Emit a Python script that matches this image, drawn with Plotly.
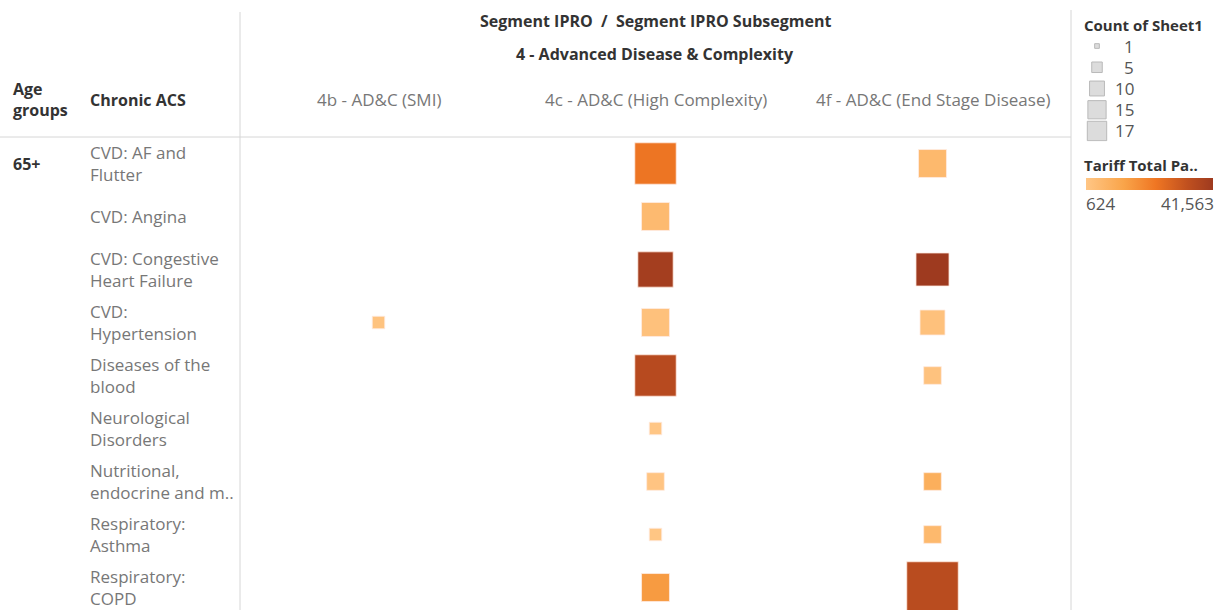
import plotly.graph_objects as go

# categories
subsegments = ["4b - AD&C (SMI)", "4c - AD&C (High Complexity)", "4f - AD&C (End Stage Disease)"]
conditions = [
    "CVD: AF and<br>Flutter",
    "CVD: Angina",
    "CVD: Congestive<br>Heart Failure",
    "CVD:<br>Hypertension",
    "Diseases of the<br>blood",
    "Neurological<br>Disorders",
    "Nutritional,<br>endocrine and m..",
    "Respiratory:<br>Asthma",
    "Respiratory:<br>COPD",
]

# one entry per mark: subsegment index, condition index, count, tariff total
point_subseg = [0, 1, 1, 1, 1, 1, 1, 1, 1, 1, 2, 2, 2, 2, 2, 2, 2]
point_cond = [3, 0, 1, 2, 3, 4, 5, 6, 7, 8, 0, 2, 3, 4, 6, 7, 8]
point_count = [1, 11, 5, 8, 5, 11, 1, 2, 1, 5, 5, 7, 4, 2, 2, 2, 17]
point_tariff = [1800, 23500, 5000, 40000, 2500, 35500, 624, 1200, 800, 15000,
                5500, 41563, 2400, 2000, 9000, 5500, 35000]

# legend values
size_legend = [1, 5, 10, 15, 17]
tariff_min, tariff_max = 624, 41563

FONT = "Open Sans"
DARK = "#333333"
GREY = "#777777"
LINE = "#d6d6d6"

W, H = 1216, 610
orange_scale = [
    [0.0, "#ffc685"],
    [0.3, "#f9a449"],
    [0.55, "#ef7623"],
    [0.8, "#c0501f"],
    [1.0, "#9e3a1f"],
]

fig = go.Figure()

max_px = 51.5
fig.add_trace(go.Scatter(
    x=point_subseg,
    y=point_cond,
    mode="markers",
    marker=dict(
        symbol="square",
        size=point_count,
        sizemode="area",
        sizeref=2 * max(point_count) / max_px ** 2,
        opacity=1,
        color=point_tariff,
        cmin=tariff_min,
        cmax=tariff_max,
        colorscale=orange_scale,
        line=dict(width=1, color="rgba(255,235,225,0.8)"),
        colorbar=dict(
            orientation="h",
            x=1149.5 / W, xanchor="center",
            y=(H - 184) / H, yanchor="middle",
            len=127, lenmode="pixels",
            thickness=12,
            xpad=0, ypad=0,
            outlinewidth=0,
            showticklabels=False,
            ticks="",
        ),
    ),
    hoverinfo="skip",
    showlegend=False,
))

# size legend squares
fig.add_trace(go.Scatter(
    x=[0] * len(size_legend),
    y=list(range(len(size_legend))),
    mode="markers",
    marker=dict(
        symbol="square",
        size=size_legend,
        sizemode="area",
        sizeref=2 * max(size_legend) / 19.4 ** 2,
        opacity=1,
        color="#dcdcdc",
        line=dict(width=1, color="#b9b9b9"),
    ),
    xaxis="x2",
    yaxis="y2",
    hoverinfo="skip",
    showlegend=False,
))

row_px = 53
grid_top = 137
vis_rows = (H - grid_top) / row_px

annotations = []

def txt(text, x, y, xref="paper", yref="paper", size=17, color=GREY, xanchor="left", yanchor="middle"):
    annotations.append(dict(
        text=text, x=x, y=y, xref=xref, yref=yref, showarrow=False,
        xanchor=xanchor, yanchor=yanchor, align="left",
        font=dict(family=FONT, size=size, color=color),
    ))

# headers
txt("<b>Segment IPRO  /  Segment IPRO Subsegment</b>", 655 / W, (H - 21) / H, size=16, color=DARK, xanchor="center")
txt("<b>4 - Advanced Disease & Complexity</b>", 655 / W, (H - 54) / H, size=16, color=DARK, xanchor="center")
for i, s in enumerate(subsegments):
    txt(s, i, (H - 100) / H, xref="x", color=GREY, xanchor="center")
txt("<b>Age<br>groups</b>", 11 / W, (H - 100) / H, size=16, color=DARK)
txt("<b>Chronic ACS</b>", 88 / W, (H - 100) / H, size=16, color=DARK)
txt("<b>65+</b>", 11 / W, 0, yref="y", size=16, color=DARK)
for i, c in enumerate(conditions):
    txt(c, 88 / W, i, yref="y", color=GREY)

# legends
txt("<b>Count of Sheet1</b>", 1082 / W, (H - 25) / H, size=15, color=DARK)
for i, v in enumerate(size_legend):
    txt(str(v), 1136 / W, i, yref="y2", color="#555555", xanchor="right")
txt("<b>Tariff Total Pa..</b>", 1082 / W, (H - 165) / H, size=15, color=DARK)
txt(f"{tariff_min:,}", 1084 / W, (H - 204) / H, color="#555555")
txt(f"{tariff_max:,}", 1216 / W, (H - 204) / H, color="#555555", xanchor="right")

shapes = [
    dict(type="line", xref="paper", yref="paper", x0=0, x1=1071 / W,
         y0=(H - grid_top) / H, y1=(H - grid_top) / H, line=dict(color=LINE, width=1)),
    dict(type="line", xref="paper", yref="paper", x0=240 / W, x1=240 / W,
         y0=0, y1=(H - 12) / H, line=dict(color=LINE, width=1)),
    dict(type="line", xref="paper", yref="paper", x0=1071 / W, x1=1071 / W,
         y0=0, y1=(H - 10) / H, line=dict(color=LINE, width=1)),
]

hidden = dict(showgrid=False, zeroline=False, showticklabels=False, showline=False, ticks="")

fig.update_layout(
    width=W,
    height=H,
    margin=dict(l=0, r=0, t=0, b=0),
    paper_bgcolor="white",
    plot_bgcolor="rgba(0,0,0,0)",
    font=dict(family=FONT),
    xaxis=dict(domain=[240 / W, 1071 / W], range=[-0.5, 2.5], **hidden),
    yaxis=dict(domain=[0, (H - grid_top) / H], range=[vis_rows - 0.5, -0.5], **hidden),
    xaxis2=dict(domain=[1085 / W, 1109 / W], range=[-1, 1], anchor="y2", **hidden),
    yaxis2=dict(domain=[(H - 141.6) / H, (H - 35.4) / H], range=[4.5, -0.5], anchor="x2", **hidden),
    annotations=annotations,
    shapes=shapes,
)

fig.write_html(
    "out.html",
    config={"displayModeBar": False},
    post_script="document.body.style.margin='0';",
)
